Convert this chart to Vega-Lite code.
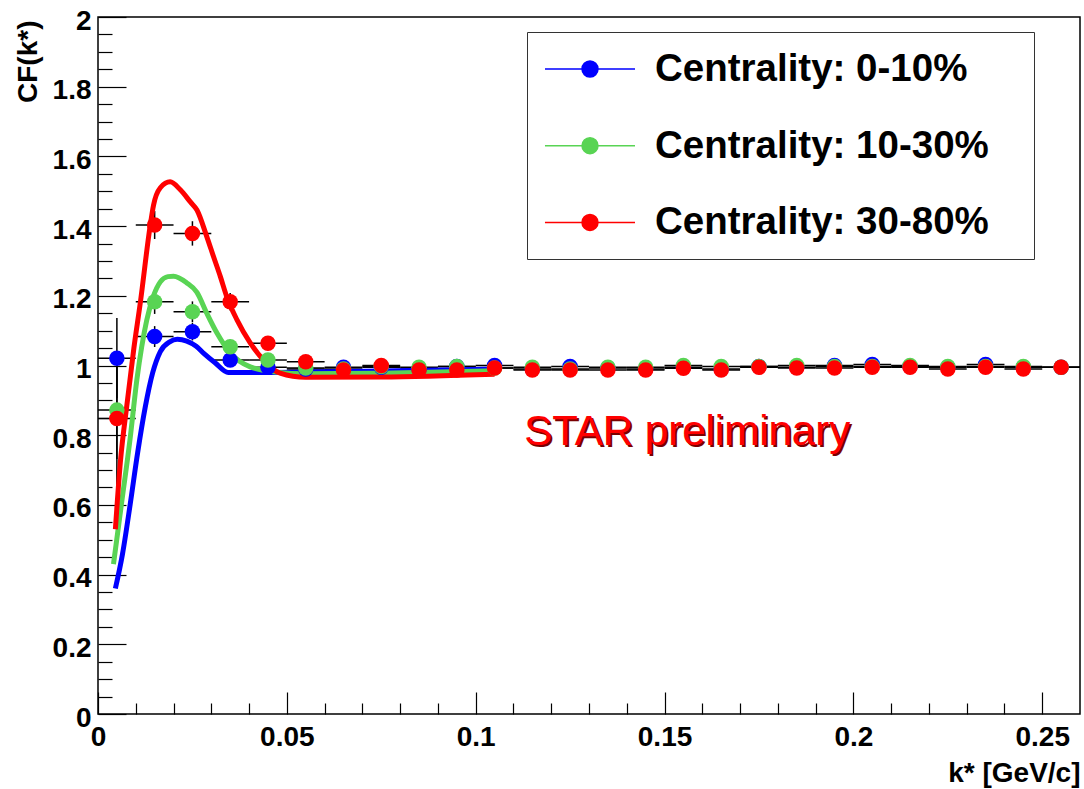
{
  "$schema": "https://vega.github.io/schema/vega-lite/v6.json",
  "width": 982,
  "height": 697,
  "autosize": "none",
  "padding": {"left": 98, "top": 17, "right": 4, "bottom": 75},
  "background": "white",
  "config": {
    "view": {"stroke": "black", "strokeWidth": 1.5},
    "font": "Liberation Sans",
    "axis": {
      "domain": false, "grid": false, "tickColor": "black", "tickWidth": 1.2,
      "labelFont": "Liberation Sans", "labelFontWeight": "bold", "labelFontSize": 28, "labelColor": "black",
      "titleFont": "Liberation Sans", "titleFontWeight": "bold", "titleFontSize": 28, "titleColor": "black"
    }
  },
  "datasets": {
    "pts": [
      {"s":"0-10%","k":0.005,"kl":0.0,"kh":0.01,"cf":1.021,"lo":0.906,"hi":1.136},
      {"s":"0-10%","k":0.015,"kl":0.01,"kh":0.02,"cf":1.083,"lo":1.053,"hi":1.113},
      {"s":"0-10%","k":0.025,"kl":0.02,"kh":0.03,"cf":1.097,"lo":1.072,"hi":1.122},
      {"s":"0-10%","k":0.035,"kl":0.03,"kh":0.04,"cf":1.016,"lo":0.996,"hi":1.036},
      {"s":"0-10%","k":0.045,"kl":0.04,"kh":0.05,"cf":0.995,"lo":0.98,"hi":1.01},
      {"s":"0-10%","k":0.055,"kl":0.05,"kh":0.06,"cf":0.99,"lo":0.978,"hi":1.002},
      {"s":"0-10%","k":0.065,"kl":0.06,"kh":0.07,"cf":0.995,"lo":0.985,"hi":1.005},
      {"s":"0-10%","k":0.075,"kl":0.07,"kh":0.08,"cf":0.995,"lo":0.985,"hi":1.005},
      {"s":"0-10%","k":0.085,"kl":0.08,"kh":0.09,"cf":0.99,"lo":0.98,"hi":1.0},
      {"s":"0-10%","k":0.095,"kl":0.09,"kh":0.1,"cf":0.997,"lo":0.987,"hi":1.007},
      {"s":"0-10%","k":0.105,"kl":0.1,"kh":0.11,"cf":1.0,"lo":0.99,"hi":1.01},
      {"s":"0-10%","k":0.115,"kl":0.11,"kh":0.12,"cf":0.99,"lo":0.98,"hi":1.0},
      {"s":"0-10%","k":0.125,"kl":0.12,"kh":0.13,"cf":0.997,"lo":0.987,"hi":1.007},
      {"s":"0-10%","k":0.135,"kl":0.13,"kh":0.14,"cf":0.993,"lo":0.983,"hi":1.003},
      {"s":"0-10%","k":0.145,"kl":0.14,"kh":0.15,"cf":0.99,"lo":0.98,"hi":1.0},
      {"s":"0-10%","k":0.155,"kl":0.15,"kh":0.16,"cf":0.995,"lo":0.985,"hi":1.005},
      {"s":"0-10%","k":0.165,"kl":0.16,"kh":0.17,"cf":0.99,"lo":0.98,"hi":1.0},
      {"s":"0-10%","k":0.175,"kl":0.17,"kh":0.18,"cf":0.997,"lo":0.987,"hi":1.007},
      {"s":"0-10%","k":0.185,"kl":0.18,"kh":0.19,"cf":0.995,"lo":0.985,"hi":1.005},
      {"s":"0-10%","k":0.195,"kl":0.19,"kh":0.2,"cf":1.0,"lo":0.99,"hi":1.01},
      {"s":"0-10%","k":0.205,"kl":0.2,"kh":0.21,"cf":1.003,"lo":0.993,"hi":1.013},
      {"s":"0-10%","k":0.215,"kl":0.21,"kh":0.22,"cf":0.997,"lo":0.987,"hi":1.007},
      {"s":"0-10%","k":0.225,"kl":0.22,"kh":0.23,"cf":0.995,"lo":0.985,"hi":1.005},
      {"s":"0-10%","k":0.235,"kl":0.23,"kh":0.24,"cf":1.003,"lo":0.993,"hi":1.013},
      {"s":"0-10%","k":0.245,"kl":0.24,"kh":0.25,"cf":0.995,"lo":0.985,"hi":1.005},
      {"s":"0-10%","k":0.255,"kl":0.25,"kh":0.26,"cf":0.995,"lo":0.985,"hi":1.005},
      {"s":"10-30%","k":0.005,"kl":0.0,"kh":0.01,"cf":0.872,"lo":0.732,"hi":1.012},
      {"s":"10-30%","k":0.015,"kl":0.01,"kh":0.02,"cf":1.183,"lo":1.148,"hi":1.218},
      {"s":"10-30%","k":0.025,"kl":0.02,"kh":0.03,"cf":1.154,"lo":1.124,"hi":1.184},
      {"s":"10-30%","k":0.035,"kl":0.03,"kh":0.04,"cf":1.054,"lo":1.034,"hi":1.074},
      {"s":"10-30%","k":0.045,"kl":0.04,"kh":0.05,"cf":1.016,"lo":1.001,"hi":1.031},
      {"s":"10-30%","k":0.055,"kl":0.05,"kh":0.06,"cf":0.993,"lo":0.981,"hi":1.005},
      {"s":"10-30%","k":0.065,"kl":0.06,"kh":0.07,"cf":0.99,"lo":0.98,"hi":1.0},
      {"s":"10-30%","k":0.075,"kl":0.07,"kh":0.08,"cf":0.997,"lo":0.987,"hi":1.007},
      {"s":"10-30%","k":0.085,"kl":0.08,"kh":0.09,"cf":0.995,"lo":0.985,"hi":1.005},
      {"s":"10-30%","k":0.095,"kl":0.09,"kh":0.1,"cf":0.997,"lo":0.987,"hi":1.007},
      {"s":"10-30%","k":0.105,"kl":0.1,"kh":0.11,"cf":0.993,"lo":0.983,"hi":1.003},
      {"s":"10-30%","k":0.115,"kl":0.11,"kh":0.12,"cf":0.995,"lo":0.985,"hi":1.005},
      {"s":"10-30%","k":0.125,"kl":0.12,"kh":0.13,"cf":0.99,"lo":0.98,"hi":1.0},
      {"s":"10-30%","k":0.135,"kl":0.13,"kh":0.14,"cf":0.995,"lo":0.985,"hi":1.005},
      {"s":"10-30%","k":0.145,"kl":0.14,"kh":0.15,"cf":0.995,"lo":0.985,"hi":1.005},
      {"s":"10-30%","k":0.155,"kl":0.15,"kh":0.16,"cf":1.0,"lo":0.99,"hi":1.01},
      {"s":"10-30%","k":0.165,"kl":0.16,"kh":0.17,"cf":0.997,"lo":0.987,"hi":1.007},
      {"s":"10-30%","k":0.175,"kl":0.17,"kh":0.18,"cf":0.997,"lo":0.987,"hi":1.007},
      {"s":"10-30%","k":0.185,"kl":0.18,"kh":0.19,"cf":1.0,"lo":0.99,"hi":1.01},
      {"s":"10-30%","k":0.195,"kl":0.19,"kh":0.2,"cf":0.997,"lo":0.987,"hi":1.007},
      {"s":"10-30%","k":0.205,"kl":0.2,"kh":0.21,"cf":0.997,"lo":0.987,"hi":1.007},
      {"s":"10-30%","k":0.215,"kl":0.21,"kh":0.22,"cf":1.0,"lo":0.99,"hi":1.01},
      {"s":"10-30%","k":0.225,"kl":0.22,"kh":0.23,"cf":0.997,"lo":0.987,"hi":1.007},
      {"s":"10-30%","k":0.235,"kl":0.23,"kh":0.24,"cf":0.997,"lo":0.987,"hi":1.007},
      {"s":"10-30%","k":0.245,"kl":0.24,"kh":0.25,"cf":0.997,"lo":0.987,"hi":1.007},
      {"s":"10-30%","k":0.255,"kl":0.25,"kh":0.26,"cf":0.995,"lo":0.985,"hi":1.005},
      {"s":"30-80%","k":0.005,"kl":0.0,"kh":0.01,"cf":0.848,"lo":0.658,"hi":1.038},
      {"s":"30-80%","k":0.015,"kl":0.01,"kh":0.02,"cf":1.403,"lo":1.363,"hi":1.443},
      {"s":"30-80%","k":0.025,"kl":0.02,"kh":0.03,"cf":1.379,"lo":1.344,"hi":1.414},
      {"s":"30-80%","k":0.035,"kl":0.03,"kh":0.04,"cf":1.183,"lo":1.158,"hi":1.208},
      {"s":"30-80%","k":0.045,"kl":0.04,"kh":0.05,"cf":1.064,"lo":1.044,"hi":1.084},
      {"s":"30-80%","k":0.055,"kl":0.05,"kh":0.06,"cf":1.011,"lo":0.996,"hi":1.026},
      {"s":"30-80%","k":0.065,"kl":0.06,"kh":0.07,"cf":0.987,"lo":0.975,"hi":0.999},
      {"s":"30-80%","k":0.075,"kl":0.07,"kh":0.08,"cf":1.0,"lo":0.99,"hi":1.01},
      {"s":"30-80%","k":0.085,"kl":0.08,"kh":0.09,"cf":0.987,"lo":0.977,"hi":0.997},
      {"s":"30-80%","k":0.095,"kl":0.09,"kh":0.1,"cf":0.987,"lo":0.977,"hi":0.997},
      {"s":"30-80%","k":0.105,"kl":0.1,"kh":0.11,"cf":0.993,"lo":0.983,"hi":1.003},
      {"s":"30-80%","k":0.115,"kl":0.11,"kh":0.12,"cf":0.987,"lo":0.977,"hi":0.997},
      {"s":"30-80%","k":0.125,"kl":0.12,"kh":0.13,"cf":0.987,"lo":0.977,"hi":0.997},
      {"s":"30-80%","k":0.135,"kl":0.13,"kh":0.14,"cf":0.987,"lo":0.977,"hi":0.997},
      {"s":"30-80%","k":0.145,"kl":0.14,"kh":0.15,"cf":0.987,"lo":0.977,"hi":0.997},
      {"s":"30-80%","k":0.155,"kl":0.15,"kh":0.16,"cf":0.992,"lo":0.982,"hi":1.002},
      {"s":"30-80%","k":0.165,"kl":0.16,"kh":0.17,"cf":0.987,"lo":0.977,"hi":0.997},
      {"s":"30-80%","k":0.175,"kl":0.17,"kh":0.18,"cf":0.995,"lo":0.985,"hi":1.005},
      {"s":"30-80%","k":0.185,"kl":0.18,"kh":0.19,"cf":0.993,"lo":0.983,"hi":1.003},
      {"s":"30-80%","k":0.195,"kl":0.19,"kh":0.2,"cf":0.993,"lo":0.983,"hi":1.003},
      {"s":"30-80%","k":0.205,"kl":0.2,"kh":0.21,"cf":0.995,"lo":0.985,"hi":1.005},
      {"s":"30-80%","k":0.215,"kl":0.21,"kh":0.22,"cf":0.995,"lo":0.985,"hi":1.005},
      {"s":"30-80%","k":0.225,"kl":0.22,"kh":0.23,"cf":0.99,"lo":0.98,"hi":1.0},
      {"s":"30-80%","k":0.235,"kl":0.23,"kh":0.24,"cf":0.995,"lo":0.985,"hi":1.005},
      {"s":"30-80%","k":0.245,"kl":0.24,"kh":0.25,"cf":0.99,"lo":0.98,"hi":1.0},
      {"s":"30-80%","k":0.255,"kl":0.25,"kh":0.26,"cf":0.995,"lo":0.985,"hi":1.005}
    ],
    "fits": [
      {"s":"0-10%","k":0.0046,"cf":0.36},{"s":"0-10%","k":0.0065,"cf":0.46},{"s":"0-10%","k":0.0085,"cf":0.6},
      {"s":"0-10%","k":0.0105,"cf":0.75},{"s":"0-10%","k":0.0125,"cf":0.88},{"s":"0-10%","k":0.0145,"cf":0.98},
      {"s":"0-10%","k":0.0165,"cf":1.04},{"s":"0-10%","k":0.019,"cf":1.068},{"s":"0-10%","k":0.021,"cf":1.075},
      {"s":"0-10%","k":0.0235,"cf":1.07},{"s":"0-10%","k":0.026,"cf":1.055},{"s":"0-10%","k":0.028,"cf":1.035},
      {"s":"0-10%","k":0.031,"cf":1.008},{"s":"0-10%","k":0.0345,"cf":0.98},{"s":"0-10%","k":0.045,"cf":0.98},
      {"s":"0-10%","k":0.055,"cf":0.981},{"s":"0-10%","k":0.075,"cf":0.984},{"s":"0-10%","k":0.105,"cf":0.99},
      {"s":"10-30%","k":0.0041,"cf":0.43},{"s":"10-30%","k":0.0063,"cf":0.61},{"s":"10-30%","k":0.0085,"cf":0.79},
      {"s":"10-30%","k":0.0103,"cf":0.96},{"s":"10-30%","k":0.0129,"cf":1.13},{"s":"10-30%","k":0.0147,"cf":1.2},
      {"s":"10-30%","k":0.0165,"cf":1.24},{"s":"10-30%","k":0.0185,"cf":1.255},{"s":"10-30%","k":0.02,"cf":1.256},
      {"s":"10-30%","k":0.0235,"cf":1.237},{"s":"10-30%","k":0.0262,"cf":1.21},{"s":"10-30%","k":0.0288,"cf":1.15},
      {"s":"10-30%","k":0.0315,"cf":1.093},{"s":"10-30%","k":0.035,"cf":1.036},{"s":"10-30%","k":0.0403,"cf":0.996},
      {"s":"10-30%","k":0.0473,"cf":0.981},{"s":"10-30%","k":0.055,"cf":0.976},{"s":"10-30%","k":0.075,"cf":0.978},
      {"s":"10-30%","k":0.105,"cf":0.985},
      {"s":"30-80%","k":0.0046,"cf":0.53},{"s":"30-80%","k":0.0059,"cf":0.72},{"s":"30-80%","k":0.0078,"cf":0.9},
      {"s":"30-80%","k":0.0095,"cf":1.05},{"s":"30-80%","k":0.0112,"cf":1.18},{"s":"30-80%","k":0.0138,"cf":1.4},
      {"s":"30-80%","k":0.0147,"cf":1.46},{"s":"30-80%","k":0.0165,"cf":1.51},{"s":"30-80%","k":0.0191,"cf":1.527},
      {"s":"30-80%","k":0.0218,"cf":1.504},{"s":"30-80%","k":0.0244,"cf":1.47},{"s":"30-80%","k":0.0262,"cf":1.446},
      {"s":"30-80%","k":0.0288,"cf":1.37},{"s":"30-80%","k":0.0306,"cf":1.312},{"s":"30-80%","k":0.0324,"cf":1.255},
      {"s":"30-80%","k":0.0341,"cf":1.197},{"s":"30-80%","k":0.0368,"cf":1.131},{"s":"30-80%","k":0.0403,"cf":1.065},
      {"s":"30-80%","k":0.0438,"cf":1.016},{"s":"30-80%","k":0.0482,"cf":0.978},{"s":"30-80%","k":0.055,"cf":0.966},
      {"s":"30-80%","k":0.075,"cf":0.967},{"s":"30-80%","k":0.105,"cf":0.975}
    ],
    "lab": [{"t": "STAR preliminary", "k": 0.156, "cf": 0.81}]
  },
  "layer": [
    {
      "data": {"name": "pts"},
      "mark": {"type": "rule", "color": "black", "strokeWidth": 1.5},
      "encoding": {
        "x": {"field": "kl", "type": "quantitative",
          "scale": {"domain": [0, 0.26], "nice": false, "zero": false},
          "axis": {"orient": "bottom", "values": [0, 0.05, 0.1, 0.15, 0.2, 0.25], "tickSize": -22, "labelPadding": 31,
            "labelExpr": "datum.value", "labelFlush": false, "labelOverlap": false,
            "title": "k* [GeV/c]", "titleX": 982, "titleY": 59, "titleAlign": "right", "titleBaseline": "middle", "titleAngle": 0}},
        "x2": {"field": "kh"},
        "y": {"field": "cf", "type": "quantitative",
          "scale": {"domain": [0, 2], "nice": false, "zero": false},
          "axis": {"orient": "left", "values": [0, 0.2, 0.4, 0.6, 0.8, 1, 1.2, 1.4, 1.6, 1.8, 2], "tickSize": -28, "labelPadding": 35,
            "labelExpr": "datum.value", "labelOffset": 4, "labelFlush": false, "labelOverlap": false,
            "title": "CF(k*)", "titleX": -70, "titleY": 3, "titleAngle": -90, "titleAlign": "right", "titleBaseline": "middle"}}
      }
    },
    {
      "data": {"name": "pts"},
      "mark": {"type": "rule", "color": "black", "strokeWidth": 1.5},
      "encoding": {
        "x": {"field": "k", "type": "quantitative",
          "scale": {"domain": [0, 0.26], "nice": false, "zero": false},
          "axis": {"orient": "bottom", "values": [0.01, 0.02, 0.03, 0.04, 0.06, 0.07, 0.08, 0.09, 0.11, 0.12, 0.13, 0.14, 0.16, 0.17, 0.18, 0.19, 0.21, 0.22, 0.23, 0.24],
            "tickSize": -11, "labels": false, "title": null}},
        "y": {"field": "lo", "type": "quantitative",
          "scale": {"domain": [0, 2], "nice": false, "zero": false},
          "axis": {"orient": "left", "values": [0.05, 0.1, 0.15, 0.25, 0.3, 0.35, 0.45, 0.5, 0.55, 0.65, 0.7, 0.75, 0.85, 0.9, 0.95, 1.05, 1.1, 1.15, 1.25, 1.3, 1.35, 1.45, 1.5, 1.55, 1.65, 1.7, 1.75, 1.85, 1.9, 1.95],
            "tickSize": -14, "labels": false, "title": null}},
        "y2": {"field": "hi"}
      }
    },
    {
      "data": {"name": "fits"},
      "mark": {"type": "line", "strokeWidth": 5, "interpolate": "monotone"},
      "encoding": {
        "x": {"field": "k", "type": "quantitative", "axis": null},
        "y": {"field": "cf", "type": "quantitative", "axis": null},
        "detail": {"field": "s", "type": "nominal"},
        "color": {"field": "s", "type": "nominal",
          "scale": {"domain": ["0-10%", "10-30%", "30-80%"], "range": ["#0000ff", "#59d454", "#ff0000"]},
          "legend": {
            "orient": "none", "legendX": 429, "legendY": 15, "title": null,
            "labelExpr": "'Centrality: ' + datum.label",
            "labelFont": "Liberation Sans", "labelFontWeight": "bold", "labelFontSize": 38.5, "labelColor": "black", "labelLimit": 600,
            "symbolType": "M-2.37,0H2.37M0.42,0A0.42,0.42,0,1,1,-0.42,0A0.42,0.42,0,1,1,0.42,0ZM22.29,0L22.29,0",
            "symbolSize": 1444, "symbolOffset": 26, "labelOffset": 45,
            "symbolStrokeColor": "#333333", "symbolStrokeWidth": 1.5,
            "rowPadding": 36.7, "padding": 17, "strokeColor": "#333333", "fillColor": "white",
            "encode": {"symbols": {"enter": {"stroke": {"value": "#333333"}}, "update": {"stroke": {"value": "#333333"}, "strokeWidth": {"value": 1.5}}}}
          }
        }
      }
    },
    {
      "data": {"name": "pts"},
      "mark": {"type": "point", "filled": true, "size": 240, "opacity": 1},
      "encoding": {
        "x": {"field": "k", "type": "quantitative", "axis": null},
        "y": {"field": "cf", "type": "quantitative", "axis": null},
        "color": {"field": "s", "type": "nominal"}
      }
    },
    {
      "data": {"name": "lab"},
      "mark": {"type": "text", "font": "Liberation Sans", "fontSize": 42, "color": "#7a0000", "dx": 2, "dy": 2, "align": "center", "baseline": "middle"},
      "encoding": {
        "x": {"field": "k", "type": "quantitative", "axis": null},
        "y": {"field": "cf", "type": "quantitative", "axis": null},
        "text": {"field": "t"}
      }
    },
    {
      "data": {"name": "lab"},
      "mark": {"type": "text", "font": "Liberation Sans", "fontSize": 42, "color": "#ff0000", "align": "center", "baseline": "middle"},
      "encoding": {
        "x": {"field": "k", "type": "quantitative", "axis": null},
        "y": {"field": "cf", "type": "quantitative", "axis": null},
        "text": {"field": "t"}
      }
    }
  ],
  "resolve": {"axis": {"x": "independent", "y": "independent"}}
}
